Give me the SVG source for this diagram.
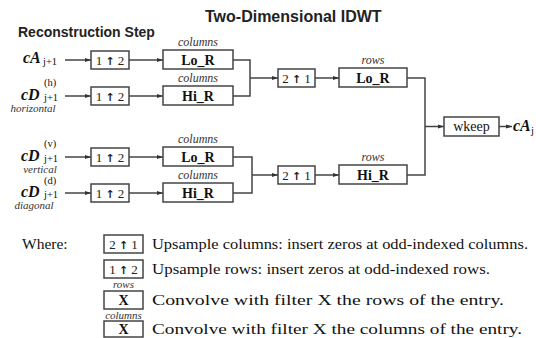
<svg xmlns="http://www.w3.org/2000/svg" width="536" height="338" viewBox="0 0 536 338">
<style>
.box{fill:#fff;stroke:#444;stroke-width:1.5}
.ln{fill:none;stroke:#444;stroke-width:1.5}
.ar{fill:none;stroke:#444;stroke-width:1.5;marker-end:url(#ah)}
.t{font-family:"Liberation Serif",serif;fill:#111}
.bt{font-family:"Liberation Serif",serif;font-size:14px;font-weight:bold;fill:#111;text-anchor:middle}
.up{font-family:"Liberation Serif",serif;font-size:13px;fill:#222;text-anchor:middle}
.it{font-family:"Liberation Serif",serif;font-style:italic;font-size:12px;fill:#333;text-anchor:middle}
.lab{font-family:"Liberation Serif",serif;font-style:italic;font-size:11px;fill:#333;text-anchor:middle}
.var{font-family:"Liberation Serif",serif;font-style:italic;font-weight:bold;font-size:16px;fill:#111}
.sub{font-family:"Liberation Serif",serif;font-size:10.5px;fill:#111}
.lg{font-family:"Liberation Serif",serif;font-size:15.5px;fill:#111}
.ua{font-family:"DejaVu Sans",sans-serif;font-weight:bold;font-size:11px}
</style>
<defs>
<marker id="ah" viewBox="0 0 10 10" refX="10" refY="5" markerWidth="6" markerHeight="6" markerUnits="userSpaceOnUse" orient="auto"><path d="M0,1.5L10,5L0,8.5z" fill="#333"/></marker>
</defs>
<text x="205" y="22" style="font-family:'Liberation Sans',sans-serif;font-weight:bold;font-size:16px;fill:#222">Two-Dimensional IDWT</text>
<text x="18" y="37" style="font-family:'Liberation Sans',sans-serif;font-weight:bold;font-size:14px;fill:#222">Reconstruction Step</text>

<g id="connectors">
<line class="ar" x1="65" y1="60" x2="91" y2="60"/>
<line class="ar" x1="65" y1="96" x2="91" y2="96"/>
<line class="ar" x1="65" y1="157" x2="91" y2="157"/>
<line class="ar" x1="65" y1="193" x2="91" y2="193"/>
<line class="ar" x1="129" y1="60" x2="163" y2="60"/>
<line class="ar" x1="129" y1="96" x2="163" y2="96"/>
<line class="ar" x1="129" y1="157" x2="163" y2="157"/>
<line class="ar" x1="129" y1="193" x2="163" y2="193"/>
<path class="ln" d="M233,60H250V96H233"/>
<path class="ln" d="M233,157H252V193H233"/>
<line class="ar" x1="250" y1="78" x2="278" y2="78"/>
<line class="ar" x1="252" y1="175" x2="278" y2="175"/>
<line class="ar" x1="315" y1="78" x2="339" y2="78"/>
<line class="ar" x1="315" y1="175" x2="339" y2="175"/>
<path class="ln" d="M407,78H425V175H407"/>
<line class="ar" x1="425" y1="126.5" x2="444" y2="126.5"/>
<line class="ar" x1="499" y1="126.5" x2="512" y2="126.5"/>
</g>

<g id="in-cA">
<text class="var" x="23" y="63">cA</text><text class="sub" x="43" y="65">j+1</text>
</g>
<g id="in-cDh">
<text class="var" x="21" y="100">cD</text><text class="sub" x="44" y="86">(h)</text><text class="sub" x="44" y="101">j+1</text>
<text class="lab" x="33" y="112">horizontal</text>
</g>
<g id="in-cDv">
<text class="var" x="21" y="161">cD</text><text class="sub" x="44" y="147">(v)</text><text class="sub" x="44" y="162">j+1</text>
<text class="lab" x="40" y="173">vertical</text>
</g>
<g id="in-cDd">
<text class="var" x="21" y="197">cD</text><text class="sub" x="44" y="184">(d)</text><text class="sub" x="44" y="198">j+1</text>
<text class="lab" x="34" y="209">diagonal</text>
</g>

<g id="up1"><rect class="box" x="91" y="51" width="38" height="18"/><text class="up" x="110" y="64.5">1 <tspan class="ua">↑</tspan> 2</text></g>
<g id="up2"><rect class="box" x="91" y="87" width="38" height="18"/><text class="up" x="110" y="100.5">1 <tspan class="ua">↑</tspan> 2</text></g>
<g id="up3"><rect class="box" x="91" y="148" width="38" height="18"/><text class="up" x="110" y="161.5">1 <tspan class="ua">↑</tspan> 2</text></g>
<g id="up4"><rect class="box" x="91" y="184" width="38" height="18"/><text class="up" x="110" y="197.5">1 <tspan class="ua">↑</tspan> 2</text></g>

<g id="col1"><text class="it" x="198" y="46">columns</text><rect class="box" x="163" y="50" width="70" height="19"/><text class="bt" x="198" y="64.5">Lo_R</text></g>
<g id="col2"><text class="it" x="198" y="82">columns</text><rect class="box" x="163" y="86" width="70" height="19"/><text class="bt" x="198" y="100.5">Hi_R</text></g>
<g id="col3"><text class="it" x="198" y="143">columns</text><rect class="box" x="163" y="147" width="70" height="19"/><text class="bt" x="198" y="161.5">Lo_R</text></g>
<g id="col4"><text class="it" x="198" y="179">columns</text><rect class="box" x="163" y="183" width="70" height="19"/><text class="bt" x="198" y="197.5">Hi_R</text></g>

<g id="uc1"><rect class="box" x="278" y="69" width="37" height="18"/><text class="up" x="296.5" y="82.5">2 <tspan class="ua">↑</tspan> 1</text></g>
<g id="uc2"><rect class="box" x="278" y="166" width="37" height="18"/><text class="up" x="296.5" y="179.5">2 <tspan class="ua">↑</tspan> 1</text></g>

<g id="row1"><text class="it" x="373" y="64">rows</text><rect class="box" x="339" y="68" width="68" height="19"/><text class="bt" x="373" y="82.5">Lo_R</text></g>
<g id="row2"><text class="it" x="373" y="161">rows</text><rect class="box" x="339" y="165" width="68" height="19"/><text class="bt" x="373" y="179.5">Hi_R</text></g>

<g id="wkeep"><rect class="box" x="444" y="117" width="55" height="19"/><text class="t" x="471.5" y="131" text-anchor="middle" font-size="14">wkeep</text></g>
<g id="out"><text class="var" x="513" y="131" font-size="15">cA</text><text class="sub" x="531" y="134">j</text></g>

<g id="legend">
<text class="lg" x="22" y="249">Where:</text>
<rect class="box" x="104" y="235" width="39" height="18"/><text class="up" x="123.5" y="248.5">2 <tspan class="ua">↑</tspan> 1</text>
<text class="lg" x="152" y="249" textLength="376" lengthAdjust="spacingAndGlyphs">Upsample columns: insert zeros at odd-indexed columns.</text>
<rect class="box" x="104" y="260" width="39" height="18"/><text class="up" x="123.5" y="273.5">1 <tspan class="ua">↑</tspan> 2</text>
<text class="lg" x="152" y="274" textLength="338" lengthAdjust="spacingAndGlyphs">Upsample rows: insert zeros at odd-indexed rows.</text>
<text class="lab" x="123.5" y="288">rows</text>
<rect class="box" x="104" y="291" width="39" height="18"/><text class="bt" x="123.5" y="304.5">X</text>
<text class="lg" x="152" y="305" textLength="352" lengthAdjust="spacingAndGlyphs">Convolve with filter X the rows of the entry.</text>
<text class="lab" x="123.5" y="319">columns</text>
<rect class="box" x="104" y="321" width="39" height="16"/><text class="bt" x="123.5" y="333.5">X</text>
<text class="lg" x="152" y="334" textLength="370" lengthAdjust="spacingAndGlyphs">Convolve with filter X the columns of the entry.</text>
</g>
</svg>
